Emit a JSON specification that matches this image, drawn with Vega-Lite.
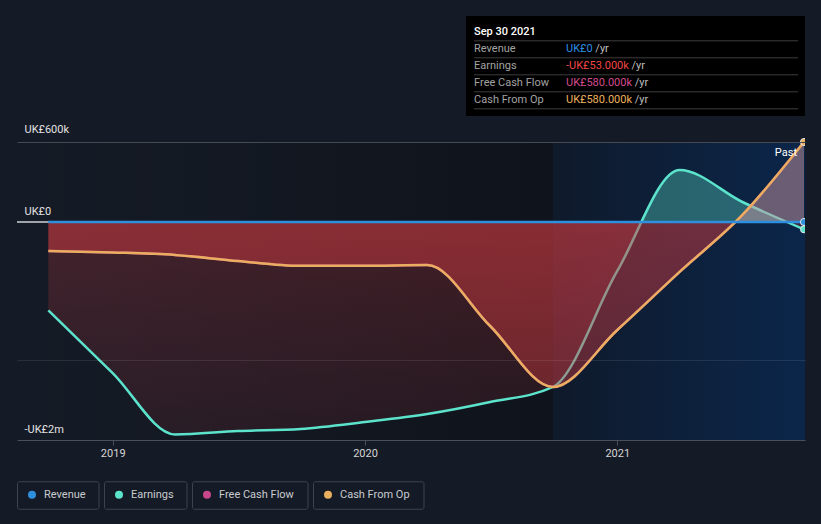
{
  "$schema": "https://vega.github.io/schema/vega-lite/v6.json",
  "width": 788,
  "height": 440,
  "autosize": {"type": "none"},
  "padding": {"left": 17, "top": 0, "right": 16, "bottom": 84},
  "background": "#151b26",
  "config": {
    "view": {"stroke": null},
    "font": "Roboto",
    "text": {"font": "Roboto", "fontSize": 11}
  },
  "datasets": {
    "ts": [
      {"t": 2018.745, "series": "Revenue", "v": 0},
      {"t": 2019.0, "series": "Revenue", "v": 0},
      {"t": 2019.247, "series": "Revenue", "v": 0},
      {"t": 2019.496, "series": "Revenue", "v": 0},
      {"t": 2019.745, "series": "Revenue", "v": 0},
      {"t": 2020.0, "series": "Revenue", "v": 0},
      {"t": 2020.247, "series": "Revenue", "v": 0},
      {"t": 2020.496, "series": "Revenue", "v": 0},
      {"t": 2020.745, "series": "Revenue", "v": 0},
      {"t": 2021.0, "series": "Revenue", "v": 0},
      {"t": 2021.247, "series": "Revenue", "v": 0},
      {"t": 2021.496, "series": "Revenue", "v": 0},
      {"t": 2021.74, "series": "Revenue", "v": 0},
      {"t": 2018.745, "series": "Earnings", "v": -640000},
      {"t": 2019.0, "series": "Earnings", "v": -1095000},
      {"t": 2019.247, "series": "Earnings", "v": -1540000},
      {"t": 2019.496, "series": "Earnings", "v": -1515000},
      {"t": 2019.745, "series": "Earnings", "v": -1500000},
      {"t": 2020.0, "series": "Earnings", "v": -1450000},
      {"t": 2020.247, "series": "Earnings", "v": -1392000},
      {"t": 2020.496, "series": "Earnings", "v": -1305000},
      {"t": 2020.745, "series": "Earnings", "v": -1196000},
      {"t": 2021.0, "series": "Earnings", "v": -355000},
      {"t": 2021.247, "series": "Earnings", "v": 377000},
      {"t": 2021.496, "series": "Earnings", "v": 145000},
      {"t": 2021.74, "series": "Earnings", "v": -53000},
      {"t": 2018.745, "series": "Free Cash Flow", "v": -210000},
      {"t": 2019.0, "series": "Free Cash Flow", "v": -221000},
      {"t": 2019.247, "series": "Free Cash Flow", "v": -239000},
      {"t": 2019.496, "series": "Free Cash Flow", "v": -283000},
      {"t": 2019.745, "series": "Free Cash Flow", "v": -318000},
      {"t": 2020.0, "series": "Free Cash Flow", "v": -317000},
      {"t": 2020.247, "series": "Free Cash Flow", "v": -312000},
      {"t": 2020.496, "series": "Free Cash Flow", "v": -754000},
      {"t": 2020.745, "series": "Free Cash Flow", "v": -1196000},
      {"t": 2021.0, "series": "Free Cash Flow", "v": -783000},
      {"t": 2021.247, "series": "Free Cash Flow", "v": -362000},
      {"t": 2021.496, "series": "Free Cash Flow", "v": 51000},
      {"t": 2021.74, "series": "Free Cash Flow", "v": 580000},
      {"t": 2018.745, "series": "Cash From Op", "v": -210000},
      {"t": 2019.0, "series": "Cash From Op", "v": -221000},
      {"t": 2019.247, "series": "Cash From Op", "v": -239000},
      {"t": 2019.496, "series": "Cash From Op", "v": -283000},
      {"t": 2019.745, "series": "Cash From Op", "v": -318000},
      {"t": 2020.0, "series": "Cash From Op", "v": -317000},
      {"t": 2020.247, "series": "Cash From Op", "v": -312000},
      {"t": 2020.496, "series": "Cash From Op", "v": -754000},
      {"t": 2020.745, "series": "Cash From Op", "v": -1196000},
      {"t": 2021.0, "series": "Cash From Op", "v": -783000},
      {"t": 2021.247, "series": "Cash From Op", "v": -362000},
      {"t": 2021.496, "series": "Cash From Op", "v": 51000},
      {"t": 2021.74, "series": "Cash From Op", "v": 580000}
    ],
    "tip": [
      {"row": "head", "label": "Sep 30 2021"},
      {"row": "Revenue", "label": "Revenue", "value": "UK£0", "full": "UK£0 /yr"},
      {"row": "Earnings", "label": "Earnings", "value": "-UK£53.000k", "full": "-UK£53.000k /yr"},
      {"row": "Free Cash Flow", "label": "Free Cash Flow", "value": "UK£580.000k", "full": "UK£580.000k /yr"},
      {"row": "Cash From Op", "label": "Cash From Op", "value": "UK£580.000k", "full": "UK£580.000k /yr"}
    ]
  },
  "layer": [
    {
      "layer": [
        {
          "data": {"values": [{}]},
          "mark": {"type": "rect", "fill": {"gradient": "linear", "x1": 0, "y1": 0, "x2": 1, "y2": 0, "stops": [{"offset": 0, "color": "rgba(0,0,0,0)"}, {"offset": 1, "color": "rgba(0,0,0,0.28)"}]}},
          "encoding": {
            "x": {"datum": 2018.6207, "type": "quantitative",
              "scale": {"domain": [2018.6207, 2021.744], "nice": false, "zero": false},
              "axis": {"values": [2019, 2020, 2021], "format": "d", "title": null, "grid": false, "domainColor": "#4b4f58", "tickColor": "#4b4f58", "tickSize": 5, "labelColor": "#d5d5d5", "labelFontSize": 11, "labelFont": "Roboto", "labelPadding": 2, "labelFlush": false}},
            "x2": {"datum": 2020.745},
            "y": {"datum": 580000, "type": "quantitative",
              "scale": {"domain": [-1580500, 1609500], "nice": false, "zero": false},
              "axis": {"values": [580000, 0, -1000000, -1580500],
                "labelExpr": "datum.value == 580000 ? 'UK£600k' : datum.value == 0 ? 'UK£0' : datum.value < -1500000 ? '-UK£2m' : ''",
                "title": null, "domain": false, "ticks": false, "tickSize": 0,
                "labelAlign": "left", "labelBaseline": "alphabetic", "labelPadding": -7,
                "labelOffset": {"condition": {"test": "datum.value === 580000", "value": -10}, "value": -8},
                "labelColor": "#e2e2e2", "labelFontSize": 11, "labelFont": "Roboto", "labelOverlap": false, "labelFlush": false,
                "grid": true, "gridWidth": 1,
                "gridColor": {"condition": [{"test": "datum.value === 0 || datum.value < -1500000", "value": "rgba(0,0,0,0)"}, {"test": "datum.value === 580000", "value": "#454a53"}], "value": "rgba(255,255,255,0.09)"},
                "zindex": 1}},
            "y2": {"datum": -1580500}
          }
        },
        {
          "data": {"values": [{}]},
          "mark": {"type": "rect", "fill": {"gradient": "linear", "x1": 0, "y1": 0, "x2": 1, "y2": 0, "stops": [{"offset": 0, "color": "#0f1a2b"}, {"offset": 1, "color": "#0b264a"}]}},
          "encoding": {
            "x": {"datum": 2020.745, "type": "quantitative"},
            "x2": {"datum": 2021.744},
            "y": {"datum": 580000, "type": "quantitative"},
            "y2": {"datum": -1580500}
          }
        },
        {
          "data": {"values": [{}]},
          "mark": {"type": "rule", "color": "#cfd2d6", "strokeWidth": 1.5},
          "encoding": {"y": {"datum": 0, "type": "quantitative"}}
        },
        {
          "data": {"name": "ts"},
          "transform": [{"filter": "datum.series === 'Earnings'"}],
          "mark": {"type": "area", "interpolate": "monotone",
            "fill": {"gradient": "linear", "x1": 0, "y1": 0, "x2": 0, "y2": 1, "stops": [
              {"offset": 0, "color": "rgba(92,227,204,0.35)"},
              {"offset": 0.1967, "color": "rgba(92,227,204,0.35)"},
              {"offset": 0.1967, "color": "rgba(208,58,64,0.25)"},
              {"offset": 1, "color": "rgba(208,58,64,0.11)"}]}},
          "encoding": {
            "x": {"field": "t", "type": "quantitative"},
            "y": {"field": "v", "type": "quantitative"},
            "y2": {"datum": 0}
          }
        },
        {
          "data": {"name": "ts"},
          "transform": [{"filter": "datum.series === 'Earnings'"}],
          "mark": {"type": "line", "interpolate": "monotone", "strokeWidth": 2.5},
          "encoding": {
            "x": {"field": "t", "type": "quantitative"},
            "y": {"field": "v", "type": "quantitative"},
            "color": {"field": "series", "type": "nominal",
              "scale": {"domain": ["Revenue", "Earnings", "Free Cash Flow", "Cash From Op"], "range": ["#2e8fdf", "#5ce3cc", "#c8468a", "#e9ae5f"]},
              "legend": {"orient": "none", "legendX": 0, "legendY": 481, "direction": "horizontal", "title": null,
                "symbolType": "circle", "symbolSize": 64, "columnPadding": 4, "padding": 0, "clipHeight": 27,
                "labelFont": "Roboto", "labelFontSize": 11, "labelColor": "#c9cbcf",
                "encode": {
                  "entries": {"update": {"width": {"signal": "datum.label === 'Revenue' ? 81 : datum.label === 'Earnings' ? 82 : datum.label === 'Free Cash Flow' ? 115 : datum.index === 0 ? 81 : datum.index === 1 ? 82 : datum.index === 2 ? 115 : 110"}, "height": {"value": 27}, "noBound": {"value": false}, "stroke": {"value": "#3e434c"}, "strokeWidth": {"value": 1}, "cornerRadius": {"value": 2}, "fill": {"value": "rgba(0,0,0,0)"}}},
                  "symbols": {"update": {"x": {"value": 15}, "y": {"value": 13.5}, "fill": {"scale": "color", "field": "value"}, "strokeWidth": {"value": 0}}},
                  "labels": {"update": {"x": {"value": 27}, "y": {"value": 13.5}, "baseline": {"value": "middle"}, "align": {"value": "left"}}}
                }}}
          }
        },
        {
          "data": {"name": "ts"},
          "transform": [{"filter": "datum.series === 'Cash From Op'"}],
          "mark": {"type": "area", "interpolate": "monotone",
            "fill": {"gradient": "linear", "x1": 0, "y1": 0, "x2": 0, "y2": 1, "stops": [
              {"offset": 0, "color": "rgba(200,150,160,0.5)"},
              {"offset": 0.3265, "color": "rgba(200,150,160,0.5)"},
              {"offset": 0.3265, "color": "rgba(208,58,64,0.5)"},
              {"offset": 1, "color": "rgba(208,58,64,0.4)"}]}},
          "encoding": {
            "x": {"field": "t", "type": "quantitative"},
            "y": {"field": "v", "type": "quantitative"},
            "y2": {"datum": 0}
          }
        },
        {
          "data": {"name": "ts"},
          "transform": [{"filter": "datum.series === 'Free Cash Flow'"}],
          "mark": {"type": "line", "interpolate": "monotone", "strokeWidth": 2.5},
          "encoding": {
            "x": {"field": "t", "type": "quantitative"},
            "y": {"field": "v", "type": "quantitative"},
            "color": {"field": "series", "type": "nominal"}
          }
        },
        {
          "data": {"name": "ts"},
          "transform": [{"filter": "datum.series === 'Cash From Op'"}],
          "mark": {"type": "line", "interpolate": "monotone", "strokeWidth": 2.5},
          "encoding": {
            "x": {"field": "t", "type": "quantitative"},
            "y": {"field": "v", "type": "quantitative"},
            "color": {"field": "series", "type": "nominal"}
          }
        },
        {
          "data": {"name": "ts"},
          "transform": [{"filter": "datum.series === 'Revenue'"}],
          "mark": {"type": "line", "interpolate": "monotone", "strokeWidth": 2.5},
          "encoding": {
            "x": {"field": "t", "type": "quantitative"},
            "y": {"field": "v", "type": "quantitative"},
            "color": {"field": "series", "type": "nominal"}
          }
        },
        {
          "data": {"name": "ts"},
          "transform": [{"filter": "datum.t > 2021.7 && datum.series !== 'Free Cash Flow'"}],
          "mark": {"type": "point", "filled": true, "size": 50, "clip": true, "stroke": "#e6e6e6", "strokeWidth": 1, "opacity": 1},
          "encoding": {
            "x": {"field": "t", "type": "quantitative"},
            "y": {"field": "v", "type": "quantitative"},
            "color": {"field": "series", "type": "nominal"}
          }
        },
        {
          "data": {"values": [{}]},
          "mark": {"type": "text", "text": "Past", "align": "right", "baseline": "middle", "dx": -8, "dy": 11, "color": "#ffffff", "fontSize": 11},
          "encoding": {
            "x": {"datum": 2021.744, "type": "quantitative"},
            "y": {"datum": 580000, "type": "quantitative"}
          }
        },
        {
          "data": {"values": [{}]},
          "mark": {"type": "rect", "color": "#000000"},
          "encoding": {
            "x": {"datum": 2020.4003, "type": "quantitative"},
            "x2": {"datum": 2021.744},
            "y": {"datum": 1493500, "type": "quantitative"},
            "y2": {"datum": 768500}
          }
        }
      ]
    },
    {
      "data": {"name": "tip"},
      "encoding": {
        "y": {"field": "row", "type": "ordinal",
          "scale": {"type": "point", "domain": ["head", "Revenue", "Earnings", "Free Cash Flow", "Cash From Op"], "range": [31.7, 99.7], "padding": 0},
          "axis": null}
      },
      "layer": [
        {
          "mark": {"type": "rule", "color": "#3d3d3d", "strokeWidth": 1, "yOffset": 9.1},
          "encoding": {
            "x": {"datum": 2020.4323, "type": "quantitative"},
            "x2": {"datum": 2021.7162}
          }
        },
        {
          "transform": [{"filter": "datum.row === 'head'"}],
          "mark": {"type": "text", "align": "left", "baseline": "middle", "color": "#ffffff", "fontSize": 11, "fontWeight": 500},
          "encoding": {
            "x": {"datum": 2020.4323, "type": "quantitative"},
            "text": {"field": "label"}
          }
        },
        {
          "transform": [{"filter": "datum.row !== 'head'"}],
          "mark": {"type": "text", "align": "left", "baseline": "middle", "color": "#a3a3a3", "fontSize": 11},
          "encoding": {
            "x": {"datum": 2020.4323, "type": "quantitative"},
            "text": {"field": "label"}
          }
        },
        {
          "transform": [{"filter": "datum.row !== 'head'"}],
          "mark": {"type": "text", "align": "left", "baseline": "middle", "color": "#bdbdbd", "fontSize": 11},
          "encoding": {
            "x": {"datum": 2020.7967, "type": "quantitative"},
            "text": {"field": "full"}
          }
        },
        {
          "transform": [{"filter": "datum.row !== 'head'"}],
          "mark": {"type": "text", "align": "left", "baseline": "middle", "fontSize": 11, "fill": "#000000", "stroke": "#000000", "strokeWidth": 2.5},
          "encoding": {
            "x": {"datum": 2020.7967, "type": "quantitative"},
            "text": {"field": "value"}
          }
        },
        {
          "transform": [{"filter": "datum.row !== 'head'"}],
          "mark": {"type": "text", "align": "left", "baseline": "middle", "fontSize": 11},
          "encoding": {
            "x": {"datum": 2020.7967, "type": "quantitative"},
            "text": {"field": "value"},
            "fill": {"field": "row", "type": "nominal",
              "scale": {"domain": ["Revenue", "Earnings", "Free Cash Flow", "Cash From Op"], "range": ["#2f8fe6", "#f04646", "#d54b8e", "#ecb15c"]},
              "legend": null}
          }
        }
      ]
    }
  ],
  "resolve": {"scale": {"y": "independent"}}
}
